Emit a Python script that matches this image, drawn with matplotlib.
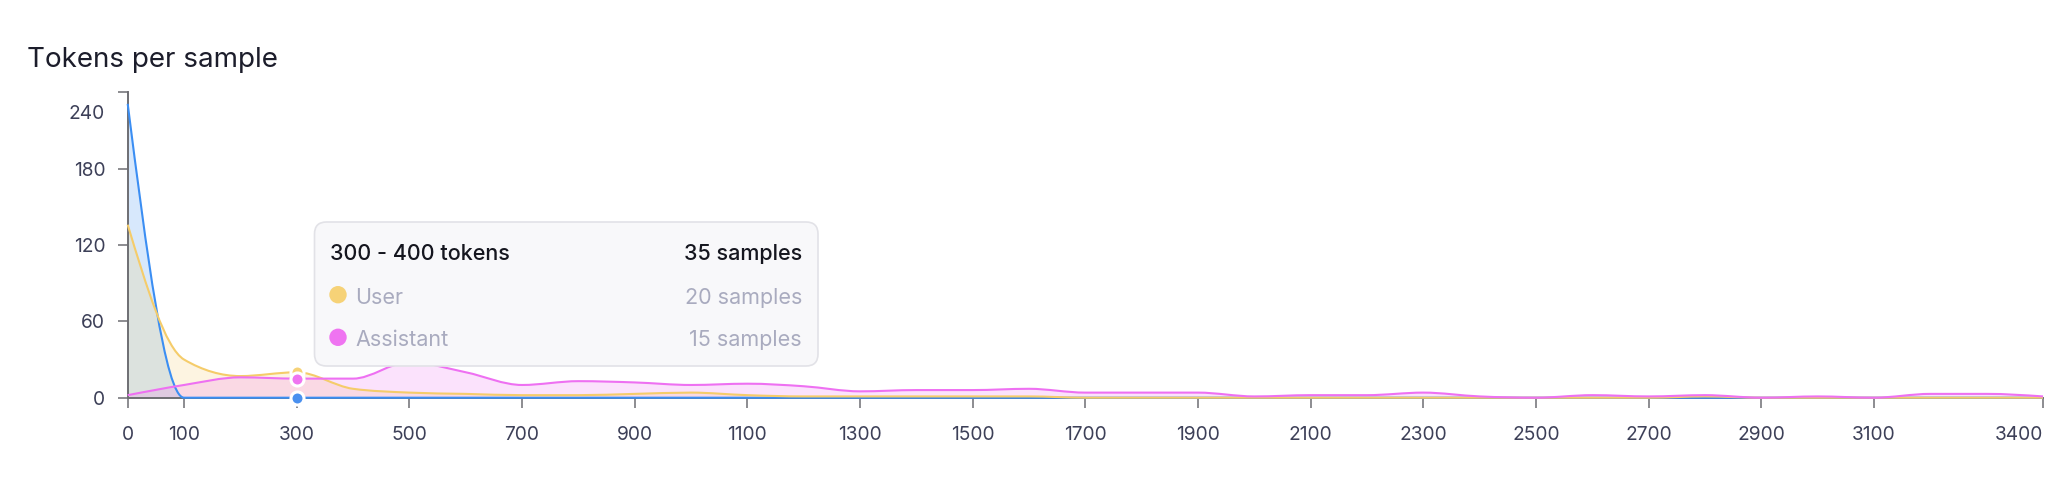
"""Tokens per sample: smoothed area chart with a hover tooltip."""

import matplotlib

matplotlib.use("Agg")
import matplotlib.pyplot as plt
import numpy as np
from matplotlib.patches import Circle, FancyBboxPatch, PathPatch
from matplotlib.path import Path

# token bins (start of each 100-token bucket)
bins = [0, 100, 200, 300, 400, 500, 600, 700, 800, 900, 1000, 1100, 1200,
        1300, 1400, 1500, 1600, 1700, 1800, 1900, 2000, 2100, 2200, 2300,
        2400, 2500, 2600, 2700, 2800, 2900, 3000, 3100, 3200, 3300, 3400]
system = [231, 0, 0, 0, 0, 0, 0, 0, 0, 0, 0, 0, 0, 0, 0, 0, 0, 0, 0, 0,
          0, 0, 0, 0, 0, 0, 0, 0, 0, 0, 0, 0, 0, 0, 0]
user = [136, 30, 17, 20, 7, 4, 3, 2, 2, 3, 4, 2, 1, 1, 1, 1, 1, 0, 0, 0,
        0, 0, 0, 0, 0, 0, 0, 0, 1, 0, 0, 0, 0, 0, 0]
assistant = [2, 10, 16, 15, 15, 28, 20, 10, 13, 12, 10, 11, 9, 5, 6, 6, 7,
             4, 4, 4, 1, 2, 2, 4, 1, 0, 2, 1, 2, 0, 1, 0, 3, 3, 1]

x_ticks = [0, 100, 300, 500, 700, 900, 1100, 1300, 1500, 1700, 1900, 2100,
           2300, 2500, 2700, 2900, 3100, 3400]
y_ticks = [0, 60, 120, 180, 240]

hover_bin = 300
tooltip_title = "300 - 400 tokens"
tooltip_total = "35 samples"
tooltip_rows = [("User", "20 samples"), ("Assistant", "15 samples")]

BLUE = "#3b8ef3"
YELLOW = "#f5cc6a"
PINK = "#ee70f2"
TICK_TEXT = "#3d4058"
AXIS = "#6e6e73"

W, H, DPI = 2072, 496, 100
FONT = ["Inter", "DejaVu Sans"]
plt.rcParams["font.family"] = FONT
TICK_SIZE = 13.8


def monotone_tangents(x, y):
    """Tangents as in d3.curveMonotoneX."""
    x = np.asarray(x, float)
    y = np.asarray(y, float)
    n = len(x)
    t = np.zeros(n)
    sg = lambda v: -1.0 if v < 0 else 1.0
    for i in range(1, n - 1):
        h0 = x[i] - x[i - 1]
        h1 = x[i + 1] - x[i]
        s0 = (y[i] - y[i - 1]) / h0
        s1 = (y[i + 1] - y[i]) / h1
        p = (s0 * h1 + s1 * h0) / (h0 + h1)
        t[i] = (sg(s0) + sg(s1)) * min(abs(s0), abs(s1), 0.5 * abs(p))
    t[0] = (3 * (y[1] - y[0]) / (x[1] - x[0]) - t[1]) / 2
    t[-1] = (3 * (y[-1] - y[-2]) / (x[-1] - x[-2]) - t[-2]) / 2
    return t


def curve_path(x, y, closed=False):
    t = monotone_tangents(x, y)
    verts = [(x[0], y[0])]
    codes = [Path.MOVETO]
    for i in range(len(x) - 1):
        dx = (x[i + 1] - x[i]) / 3
        verts += [(x[i] + dx, y[i] + dx * t[i]),
                  (x[i + 1] - dx, y[i + 1] - dx * t[i + 1]),
                  (x[i + 1], y[i + 1])]
        codes += [Path.CURVE4] * 3
    if closed:
        verts = [(x[0], 0)] + verts + [(x[-1], 0), (x[0], 0)]
        codes = [Path.MOVETO, Path.LINETO] + codes[1:] + [Path.LINETO, Path.CLOSEPOLY]
    return Path(verts, codes)


fig = plt.figure(figsize=(W / DPI, H / DPI), dpi=DPI)
ax = fig.add_axes([127.7 / W, 1 - 397.7 / H, (2043 - 127.7) / W, (397.7 - 92.4) / H])
ax.set_xlim(0, 3400)
ax.set_ylim(0, 240)

series = [(system, BLUE), (user, YELLOW), (assistant, PINK)]

# fills first, then the lines on top
for vals, color in series:
    ax.add_patch(PathPatch(curve_path(bins, vals, closed=True), facecolor=color,
                           alpha=0.2, edgecolor="none", zorder=1))
for vals, color in series:
    ax.add_patch(PathPatch(curve_path(bins, vals), facecolor="none", edgecolor=color,
                           linewidth=1.5, zorder=3, clip_on=False))

# hovered points
idx = bins.index(hover_bin)
for vals, color in [(user, "#f6d277"), (system, "#4a90ef"), (assistant, "#ef74f1")]:
    ax.plot(bins[idx], vals[idx], "o", markersize=9.4, markerfacecolor=color,
            markeredgecolor="white", markeredgewidth=2.2, zorder=5, clip_on=False)

# axes styling
for side in ["top", "right"]:
    ax.spines[side].set_visible(False)
for side in ["left", "bottom"]:
    ax.spines[side].set_color(AXIS)
    ax.spines[side].set_linewidth(1.4)
ax.spines["bottom"].set_zorder(2)

ax.set_xticks(x_ticks)
ax.set_xticklabels([str(v) for v in x_ticks[:-1]] + [""])
ax.set_yticks(y_ticks)
ax.set_yticklabels([str(v) for v in y_ticks[:-1]] + [""])
ax.tick_params(axis="both", direction="out", length=7.2, width=1.1, color=AXIS,
               labelsize=TICK_SIZE, labelcolor=TICK_TEXT)
ax.tick_params(axis="y", pad=9)
ax.tick_params(axis="x", pad=13.5)
# end labels are pulled inside the chart area
ax.annotate(str(y_ticks[-1]), xy=(0, y_ticks[-1]), xycoords=("axes fraction", "data"),
            xytext=(-22.7, -21.6), textcoords="offset pixels", ha="right", va="center",
            fontsize=TICK_SIZE, color=TICK_TEXT)
ax.annotate(str(x_ticks[-1]), xy=(x_ticks[-1], 0), xycoords=("data", "axes fraction"),
            xytext=(0, -37), textcoords="offset pixels", ha="right", va="center",
            fontsize=TICK_SIZE, color=TICK_TEXT)

fig.text(27 / W, 1 - 67.3 / H, "Tokens per sample", fontsize=20, color="#1c1d2b",
         ha="left", va="baseline")

# tooltip, placed in pixel space (inches = px / DPI)
tr = fig.dpi_scale_trans


def inch(xp, yp):
    return xp / DPI, (H - yp) / DPI


bx0, by0, bx1, by1 = 314.5, 222, 818, 366
box = FancyBboxPatch(inch(bx0, by1), (bx1 - bx0) / DPI, (by1 - by0) / DPI,
                     boxstyle="round,pad=0,rounding_size=0.12", transform=tr,
                     facecolor="#f8f8fa", edgecolor="#e2e2e7", linewidth=1.2, zorder=10)
fig.add_artist(box)
fig.text(*inch(330, 260), tooltip_title, transform=tr, fontsize=15.5, fontweight="medium",
         color="#15161f", ha="left", va="baseline", zorder=11)
fig.text(*inch(802, 260), tooltip_total, transform=tr, fontsize=15.5, fontweight="medium",
         color="#15161f", ha="right", va="baseline", zorder=11)
row_colors = ["#f6d277", "#ef74f1"]
for k, ((name, count), color) in enumerate(zip(tooltip_rows, row_colors)):
    cy = 294.7 + k * 42.6
    fig.add_artist(Circle(inch(338, cy), 8.7 / DPI, transform=tr, facecolor=color,
                          edgecolor="none", zorder=11))
    fig.text(*inch(355.5, cy + 8.8), name, transform=tr, fontsize=15.5, color="#a9abbf",
             ha="left", va="baseline", zorder=11)
    fig.text(*inch(802, cy + 8.8), count, transform=tr, fontsize=15.5, color="#a9abbf",
             ha="right", va="baseline", zorder=11)

fig.savefig("out.png", dpi=DPI)
